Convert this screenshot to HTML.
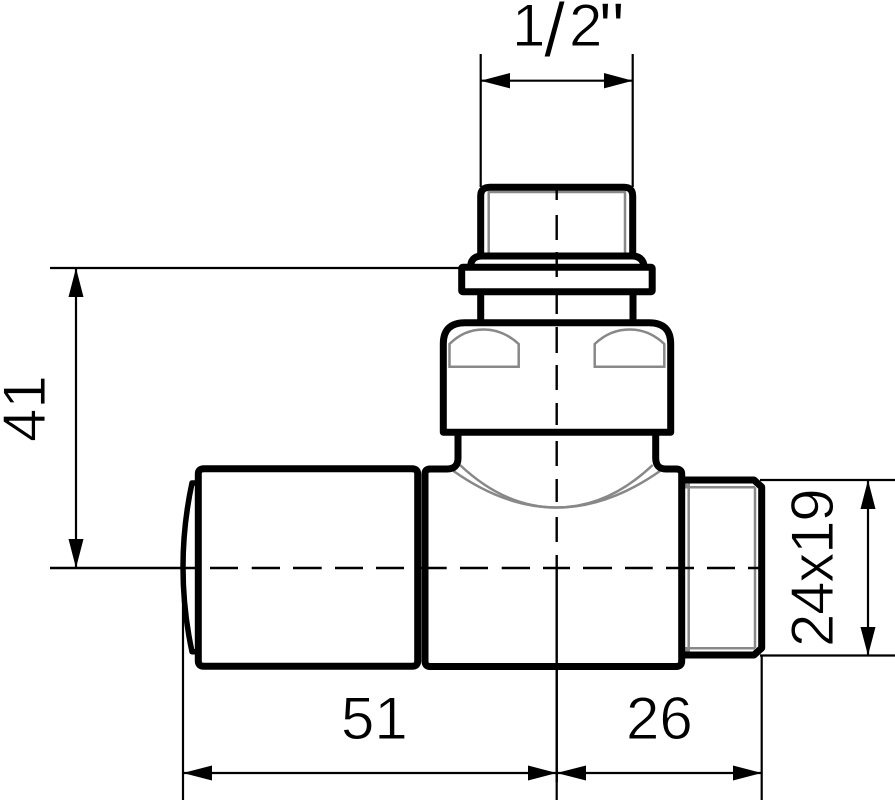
<!DOCTYPE html>
<html><head><meta charset="utf-8"><style>
html,body{margin:0;padding:0;background:#fff}
svg{display:block}
text{font-family:"Liberation Sans",sans-serif;font-size:60px;fill:#000;stroke:#fff;stroke-width:.9px}
</style></head><body>
<svg width="895" height="800" viewBox="0 0 895 800" xmlns="http://www.w3.org/2000/svg">
<!-- gray detail -->
<g fill="none" stroke="#888" stroke-width="2.5">
<path d="M488.7 256V192H625V256" />
<path d="M449.5 366.7V344Q464 329.5 483.5 329.5Q503 329.5 518.7 344V366.7Z"/>
<path d="M594.7 366.7V344Q610 329.5 629.5 329.5Q649 329.5 664.3 344V366.7Z"/>
<path d="M453.5 471Q505 507.5 556.5 507.5Q608 507.5 660 471"/>
<path d="M460 465Q505 507.5 556.5 507.5Q608 507.5 652.7 465"/>
<path d="M688.7 480V655M755 487.3V648.3M684 487.3H755M684 648.3H755M685 484L689 487.3M685 652L689 648.3"/>
</g>
<!-- centre lines -->
<g fill="none" stroke="#000" stroke-width="2.4">
<path d="M556.7 190V200M556.7 215V240M556.7 252V277M556.7 295V314M556.7 327V353M556.7 365V390M556.7 403V425M556.7 441V466M556.7 479V502M556.7 517V542M556.7 555V782"/>
<path d="M50 568H196M210 568H238M251.7 568H280M293 568H321.7M335 568H363M376 568H404M418 568H446.7M460 568H488M501.7 568H530M543 568H570M583 568H612M625 568H652.7M666 568H694M707 568H735M748 568H760"/>
</g>
<!-- dimension lines -->
<g fill="none" stroke="#000" stroke-width="2.2">
<path d="M480.7 54V187M632.7 54V187M480.7 80.7H632.7"/>
<path d="M50 268H462M76 268V568"/>
<path d="M760 480H895M760 655.5H895M868 480V655.5"/>
<path d="M183 568V800M556.7 668V800M761.7 655V800M183 773H761.7"/>
</g>
<g fill="#000">
<polygon points="480.7,80.7 510,73 510,88.4"/>
<polygon points="632.7,80.7 604,73 604,88.4"/>
<polygon points="76,268 68.5,297 83.5,297"/>
<polygon points="76,568 68.5,539 83.5,539"/>
<polygon points="868,480 860.5,509 875.5,509"/>
<polygon points="868,655.5 860.5,627 875.5,627"/>
<polygon points="183,773 212,765.5 212,780.5"/>
<polygon points="556.7,773 528,765.5 528,780.5"/>
<polygon points="556.7,773 586,765.5 586,780.5"/>
<polygon points="761.7,773 733,765.5 733,780.5"/>
</g>
<!-- main outlines -->
<g fill="none" stroke="#000" stroke-width="7" stroke-linejoin="round" stroke-linecap="round">
<path d="M480.7 256V196Q480.7 187.3 490 187.3H624Q632.7 187.3 632.7 196V256"/>
<path d="M470.7 265Q472 256 482 256H632Q642 256 644 265"/>
<rect x="461.7" y="267.3" width="190.5" height="24.4" rx="1"/>
<path d="M480.7 292V322M633 292V322"/>
<path d="M443.3 432.3V344Q443.3 322.7 465 322.7H649Q670.7 322.7 670.7 344V432.3Z"/>
<path d="M458 433V458Q458 469 447 469H430Q425 469 425 474V661Q425 666.5 430 666.5H676Q681.7 666.5 681.7 661V474Q681.7 469 676 469H666Q655.7 469 655.7 458V433"/>
<path d="M682 480H754L761.7 487V648L754 655H682"/>
<path d="M198.3 474Q198.3 468.7 204 468.7H412Q417.7 468.7 417.7 474V661Q417.7 666.3 412 666.3H204Q198.3 666.3 198.3 661Z"/>
</g>
<path d="M196 483H192Q183 525 183 567Q183 610 192 651.7H196" fill="none" stroke="#000" stroke-width="5.5" stroke-linejoin="round"/>
<!-- labels -->
<text y="46"><tspan x="512">1</tspan><tspan x="544" y="56" font-size="76">/</tspan><tspan x="569" y="46">2</tspan><tspan x="599" y="53" font-size="72">"</tspan></text>
<text x="341" y="739">51</text>
<text x="626" y="739">26</text>
<text transform="translate(45 442) rotate(-90)">41</text>
<text transform="translate(833 647) rotate(-90)" letter-spacing="-1.2">24x19</text>
</svg>
</body></html>
